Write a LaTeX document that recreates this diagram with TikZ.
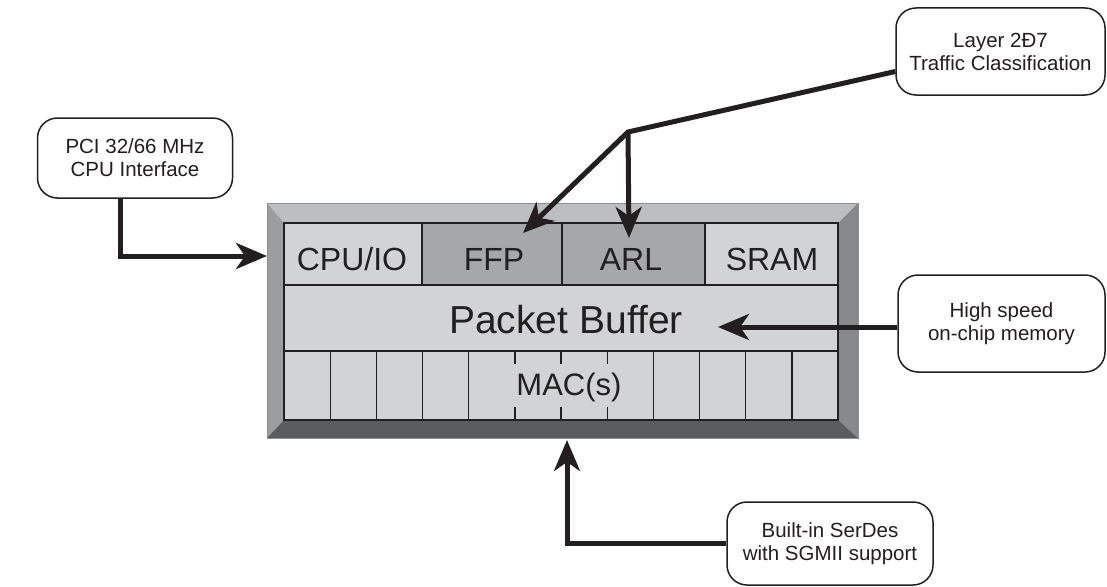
\documentclass[tikz,border=0pt]{standalone}
\usepackage{fontspec}
\setmainfont{Liberation Sans}
\usetikzlibrary{arrows.meta,calc}
\definecolor{topc}{HTML}{BDBEC0}
\definecolor{leftc}{HTML}{9C9D9F}
\definecolor{rightc}{HTML}{88898B}
\definecolor{botc}{HTML}{5B5C5E}
\definecolor{cellc}{HTML}{D2D3D5}
\definecolor{darkc}{HTML}{A6A7A9}
\definecolor{edgec}{HTML}{8E8F91}
\definecolor{inkc}{HTML}{231F20}
\begin{document}
\begin{tikzpicture}[x=1pt,y=-1pt,
  callout/.style={draw=inkc, line width=1.5pt, rounded corners=20pt, fill=white,
    align=center, inner sep=0pt, text=inkc, font=\fontsize{20.5}{23}\selectfont},
  cell/.style={draw=inkc, line width=1.3pt, inner sep=0pt},
  celltext/.style={anchor=base, inner sep=0pt, text=inkc, font=\fontsize{32}{36}\selectfont},
  arr/.style={draw=inkc, line width=5pt, line join=miter, -{Stealth[length=31pt,width=26pt,inset=9pt]}}
]
\useasboundingbox (0,0) rectangle (1107,586);

% chip bevels
\fill[topc] (267,203) -- (858,203) -- (838,223) -- (284,223) -- cycle;
\fill[leftc] (267,203) -- (284,223) -- (284,420) -- (267,438) -- cycle;
\fill[rightc] (858,203) -- (858,438) -- (838,420) -- (838,223) -- cycle;
\fill[botc] (267,438) -- (284,420) -- (838,420) -- (858,438) -- cycle;
\draw[edgec, line width=0.8pt] (267,203) rectangle (858,438);

% cells
\node[cell, fill=cellc, minimum width=138pt, minimum height=62pt] (cpu) at (353,254) {};
\node[cell, fill=darkc, minimum width=140pt, minimum height=62pt] (ffp) at (492,254) {};
\node[cell, fill=darkc, minimum width=143pt, minimum height=62pt] (arl) at (633.5,254) {};
\node[cell, fill=cellc, minimum width=133pt, minimum height=62pt] (sram) at (771.5,254) {};
\node[cell, fill=cellc, minimum width=554pt, minimum height=66pt] (pb) at (561,318) {};
\node[cell, fill=cellc, minimum width=554pt, minimum height=69pt] (mac) at (561,385.5) {};
\foreach \i in {1,2,3,4,8,9,10,11}{
  \draw[inkc, line width=1.3pt] ({284+\i*46.17},351) -- ({284+\i*46.17},420);
}
\foreach \i in {5,6,7}{
  \draw[inkc, line width=1.3pt] ({284+\i*46.17},351) -- ({284+\i*46.17},364);
  \draw[inkc, line width=1.3pt] ({284+\i*46.17},407) -- ({284+\i*46.17},420);
}
\node[celltext] (tcpu) at (352,270) {CPU/IO};
\node[celltext] (tffp) at (494,270) {FFP};
\node[celltext] (tarl) at (631,270) {ARL};
\node[celltext] (tsram) at (772,270) {SRAM};
\node[celltext, font=\fontsize{39}{44}\selectfont] (tpb) at (566,333) {Packet Buffer};
\node[celltext, font=\fontsize{31}{36}\selectfont] (tmac) at (569,395) {MAC(s)};

% callouts
\node[callout, minimum width=195pt, minimum height=80pt] (pci) at (135,158) {PCI 32/66 MHz\\CPU Interface};
\node[callout, minimum width=209pt, minimum height=87pt] (layer) at (1000.5,51.5) {Layer 2Ð7\\Traffic Classification};
\node[callout, minimum width=207pt, minimum height=97pt] (hs) at (1001.5,323.5) {High speed\\on-chip memory};
\node[callout, minimum width=206pt, minimum height=83pt] (sd) at (830,543.5) {Built-in SerDes\\with SGMII support};

% connector points
\coordinate (pcix) at (120,0);
\coordinate (cpuin) at (267,256);
\coordinate (jn) at (628,132);
\coordinate (ffptip) at (523,233);
\coordinate (arltip) at (629,238);
\coordinate (hstip) at (718,327);
\coordinate (mactip) at (567,440);

% connectors
\draw[arr] (pci.south -| pcix) |- (cpuin);
\draw[arr] ([yshift=-20pt]layer.west) -- (jn) -- (ffptip);
\draw[arr] (jn) -- (arltip);
\draw[arr] (hs.west |- hstip) -- (hstip);
\draw[arr] (sd.west) -| (mactip);
\end{tikzpicture}
\end{document}
